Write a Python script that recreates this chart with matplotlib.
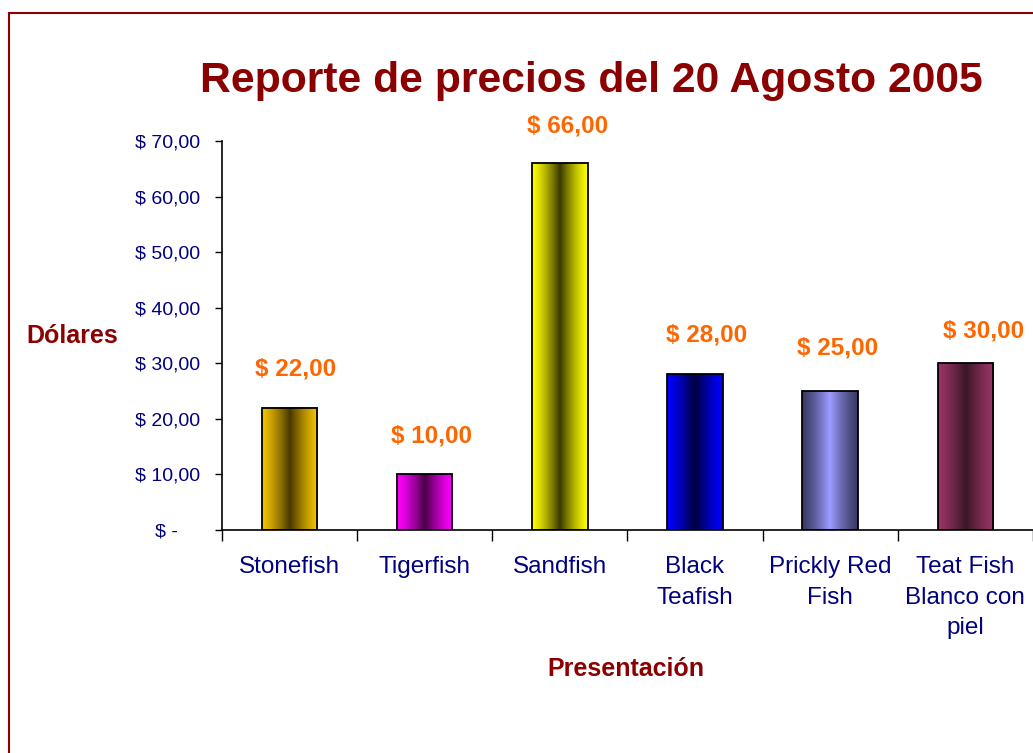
import matplotlib
matplotlib.use("Agg")
import matplotlib.pyplot as plt
import numpy as np
from matplotlib.colors import LinearSegmentedColormap
from matplotlib.patches import Rectangle

plt.rcParams['font.family'] = ['Liberation Sans', 'DejaVu Sans']

# data
categories = ["Stonefish", "Tigerfish", "Sandfish", "Black\nTeafish",
              "Prickly Red\nFish", "Teat Fish\nBlanco con\npiel"]
prices = [22, 10, 66, 28, 25, 30]
edge_colors = ["#F2C200", "#FF00FF", "#FFFF00", "#0000FF", "#3A3A66", "#993366"]
center_colors = ["#4A3800", "#4A004A", "#3A3A00", "#000040", "#9C9CFF", "#3A1826"]
yticks = [0, 10, 20, 30, 40, 50, 60, 70]
# value labels were nudged by hand in the original (pixels)
label_dx = [6, 7, 8, 12, 7, 18]
label_dy = [39, 38, 37, 39, 43, 32]

title_red = "#8B0000"
navy = "#000080"
orange = "#FF6600"


def money(v):
    if v == 0:
        return "$ -    "
    return "$ %d,00" % v


fig = plt.figure(figsize=(10.33, 7.53), dpi=100)
ax = fig.add_axes([0.2149, 0.2961, 0.785, 0.5166])

x = np.arange(len(categories))
bars = ax.bar(x, prices, width=0.41, facecolor="none", edgecolor="black",
              linewidth=1.3, zorder=3)

# horizontal gradient inside each bar (dark/light band in the middle)
t = np.linspace(0, 1, 256)
prof = (1 - np.abs(2 * t - 1)) ** 1.3
for b, ec, cc, dx, dy in zip(bars, edge_colors, center_colors, label_dx, label_dy):
    cmap = LinearSegmentedColormap.from_list("g", [ec, cc])
    x0, w, h = b.get_x(), b.get_width(), b.get_height()
    ax.imshow(prof[np.newaxis, :], cmap=cmap, extent=[x0, x0 + w, 0, h],
              aspect="auto", zorder=2, interpolation="bilinear")
    ax.annotate(money(b.get_height()), (x0 + w / 2, h), xytext=(dx, dy),
                textcoords="offset pixels", ha="center", va="center",
                color=orange, fontsize=17.5, fontweight="bold")

ax.set_xlim(-0.5, len(categories) - 0.5)
ax.set_ylim(0, 70)

ax.set_yticks(yticks)
ax.set_yticklabels([money(v) for v in yticks], color=navy, fontsize=14)
ax.tick_params(axis="y", direction="out", length=5, width=1, pad=11)

ax.set_xticks(x)
ax.set_xticklabels(categories, color=navy, fontsize=17.5, linespacing=1.5)
ax.set_xticks(np.arange(-0.5, len(categories)), minor=True)
ax.tick_params(axis="x", which="major", length=0, pad=19)
ax.tick_params(axis="x", which="minor", length=8, width=1)

for s in ["top", "right"]:
    ax.spines[s].set_visible(False)
ax.spines["left"].set_linewidth(1.2)
ax.spines["bottom"].set_linewidth(1.2)

ax.set_xlabel("Presentación", color=title_red, fontsize=18, fontweight="bold",
              va="center")
ax.xaxis.set_label_coords(0.498, -0.358)
ax.set_ylabel("Dólares", color=title_red, fontsize=18, fontweight="bold",
              rotation=0, ha="right", va="center")
ax.yaxis.set_label_coords(-0.128, 0.5)

fig.text(0.572, 0.892, "Reporte de precios del 20 Agosto 2005", ha="center",
         va="center", color=title_red, fontsize=30.7, fontweight="bold")

# chart area border
fig.patches.append(Rectangle((9 / 1033, -0.05), 1.1, 1.05 - 13 / 753,
                             transform=fig.transFigure, fill=False,
                             edgecolor=title_red, linewidth=1.5))

fig.savefig("out.png", dpi=100)
